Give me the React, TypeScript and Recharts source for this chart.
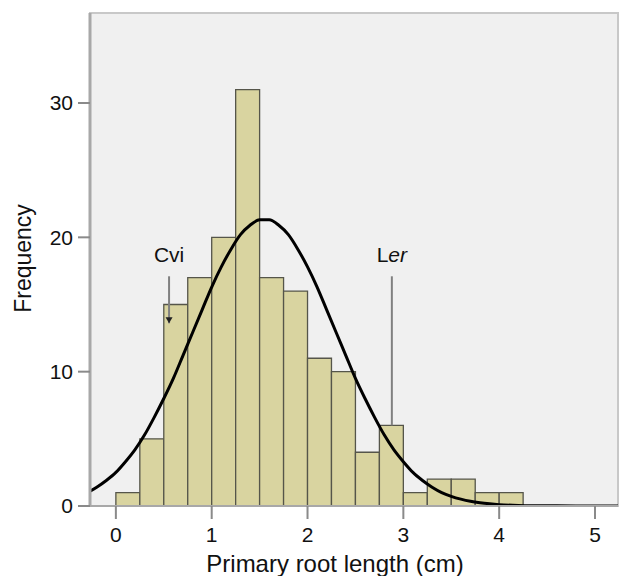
import {
  ComposedChart,
  Line,
  XAxis,
  YAxis,
  ReferenceArea,
  ReferenceLine,
  ReferenceDot,
} from 'recharts';

// histogram bins (cm) and counts
const binStart = [0, 0.25, 0.5, 0.75, 1, 1.25, 1.5, 1.75, 2, 2.25, 2.5, 2.75, 3, 3.25, 3.5, 3.75, 4];
const binEnd = [0.25, 0.5, 0.75, 1, 1.25, 1.5, 1.75, 2, 2.25, 2.5, 2.75, 3, 3.25, 3.5, 3.75, 4, 4.25];
const counts = [1, 5, 15, 17, 20, 31, 17, 16, 11, 10, 4, 6, 1, 2, 2, 1, 1];

// normal curve
const curveX = [
  -0.27, -0.2, -0.1, 0, 0.1, 0.2, 0.3, 0.4, 0.5, 0.6, 0.7, 0.8, 0.9, 1, 1.1, 1.2, 1.3, 1.4, 1.5,
  1.6, 1.7, 1.8, 1.9, 2, 2.1, 2.2, 2.3, 2.4, 2.5, 2.6, 2.7, 2.8, 2.9, 3, 3.1, 3.2, 3.3, 3.4, 3.5,
  3.6, 3.7, 3.8, 3.9, 4, 4.2, 4.4, 4.6, 4.8, 5, 5.24,
];
const curveY = [
  1.1, 1.4, 1.9, 2.5, 3.3, 4.2, 5.3, 6.6, 8.0, 9.5, 11.2, 12.9, 14.6, 16.3, 17.8, 19.1, 20.2, 20.9,
  21.3, 21.3, 20.9, 20.2, 19.1, 17.8, 16.3, 14.6, 12.9, 11.2, 9.5, 8.0, 6.6, 5.3, 4.2, 3.3, 2.5,
  1.9, 1.4, 1.0, 0.72, 0.51, 0.35, 0.24, 0.16, 0.1, 0.04, 0.02, 0.01, 0, 0, 0,
];

const xTicks = [0, 1, 2, 3, 4, 5];
const yTicks = [0, 10, 20, 30];

// accession markers
const markerNames = ['Cvi', 'Ler'];
const markerX = [0.555, 2.88];
const markerTop = [17.1, 17.1];
const markerBottom = [13.6, 6];
const markerArrow = [true, false];

const X_MIN = -0.27;
const X_MAX = 5.24;
const Y_MAX = 36.7;

const FONT = 'Liberation Sans, Arial, sans-serif';

const curveData = curveX.map((x, i) => ({ x, y: curveY[i] }));

function MarkerLabel({ viewBox, name }: any) {
  const x = viewBox.x;
  const y = viewBox.y;
  if (name === 'Ler') {
    return (
      <text x={x} y={y} textAnchor="middle" fontSize={21} fontFamily={FONT} fill="#111">
        <tspan>L</tspan>
        <tspan fontStyle="italic">er</tspan>
      </text>
    );
  }
  return (
    <text x={x} y={y} textAnchor="middle" fontSize={21} fontFamily={FONT} fill="#111">
      {name}
    </text>
  );
}

function Arrow(props: any) {
  const { cx, cy } = props;
  return <path d={`M${cx - 3.5},${cy - 6} L${cx + 3.5},${cy - 6} L${cx},${cy} Z`} fill="#222" />;
}

export default function App() {
  return (
    <div style={{ position: 'absolute', left: 0, top: 0, background: '#fff' }}>
      <ComposedChart
        width={620}
        height={576}
        data={curveData}
        margin={{ top: 13, right: 2, bottom: 0, left: 0 }}
      >
        <XAxis
          dataKey="x"
          type="number"
          domain={[X_MIN, X_MAX]}
          ticks={xTicks}
          allowDataOverflow
          height={70}
          tickSize={13}
          tickMargin={8}
          axisLine={{ stroke: '#a8a8a8', strokeWidth: 2 }}
          tickLine={{ stroke: '#8a8a8a', strokeWidth: 2 }}
          tick={{ fontSize: 21, fontFamily: FONT, fill: '#111' }}
          label={{
            content: ({ viewBox }: any) => (
              <text
                x={viewBox.x + viewBox.width / 2 - 19}
                y={572}
                textAnchor="middle"
                fontSize={24}
                fontFamily={FONT}
                fill="#111"
              >
                Primary root length (cm)
              </text>
            ),
          }}
        />
        <YAxis
          type="number"
          domain={[0, Y_MAX]}
          ticks={yTicks}
          allowDataOverflow
          width={90}
          tickSize={12}
          tickMargin={5}
          axisLine={{ stroke: '#a8a8a8', strokeWidth: 3 }}
          tickLine={{ stroke: '#8a8a8a', strokeWidth: 2 }}
          tick={{ fontSize: 21, fontFamily: FONT, fill: '#111' }}
          label={{
            content: ({ viewBox }: any) => {
              const cy = viewBox.y + viewBox.height / 2 - 1;
              return (
                <text
                  x={31}
                  y={cy}
                  transform={`rotate(-90 31 ${cy})`}
                  textAnchor="middle"
                  fontSize={23}
                  fontFamily={FONT}
                  fill="#111"
                >
                  Frequency
                </text>
              );
            },
          }}
        />
        <ReferenceArea
          x1={X_MIN}
          x2={X_MAX}
          y1={0}
          y2={Y_MAX}
          fill="#f0f0f0"
          fillOpacity={1}
          stroke="#c8c8c8"
          strokeWidth={2}
        />
        {counts.map((c, i) => (
          <ReferenceArea
            key={i}
            x1={binStart[i]}
            x2={binEnd[i]}
            y1={0}
            y2={c}
            fill="#d9d4a0"
            fillOpacity={1}
            stroke="#55554a"
            strokeWidth={1.3}
          />
        ))}
        {markerNames.map((n, i) => (
          <ReferenceLine
            key={'l' + n}
            segment={[
              { x: markerX[i], y: markerTop[i] },
              { x: markerX[i], y: markerBottom[i] },
            ]}
            stroke="#808080"
            strokeWidth={2}
          />
        ))}
        {markerNames.map((n, i) =>
          markerArrow[i] ? (
            <ReferenceDot key={'a' + n} x={markerX[i]} y={markerBottom[i]} r={3} shape={Arrow} />
          ) : null
        )}
        {markerNames.map((n, i) => (
          <ReferenceDot
            key={'t' + n}
            x={markerX[i]}
            y={markerTop[i] + 1.1}
            r={0}
            fill="none"
            stroke="none"
            label={{ content: (p: any) => <MarkerLabel {...p} name={n} /> }}
          />
        ))}
        <Line
          type="monotone"
          dataKey="y"
          stroke="#000"
          strokeWidth={3}
          dot={false}
          activeDot={false}
          isAnimationActive={false}
        />
      </ComposedChart>
    </div>
  );
}
